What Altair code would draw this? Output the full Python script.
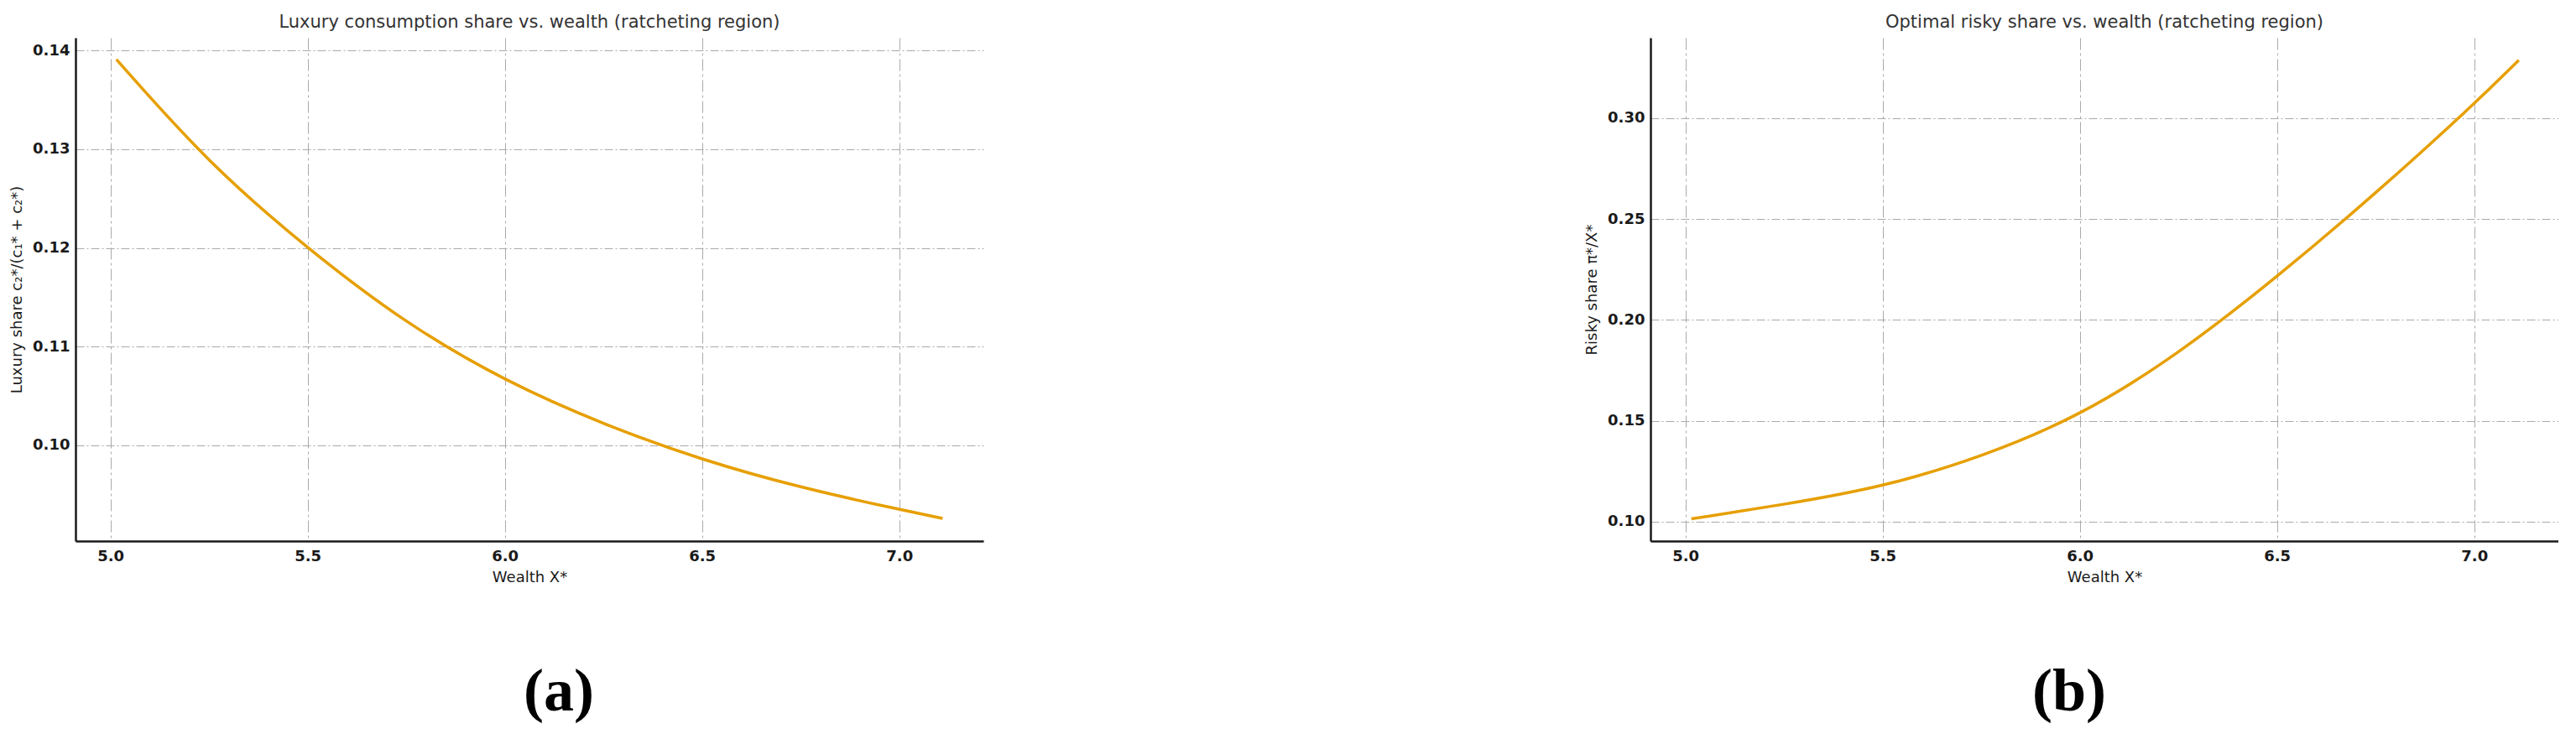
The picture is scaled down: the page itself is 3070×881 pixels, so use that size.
import altair as alt
import pandas as pd

# Data
wealth_a = [5.015, 5.25, 5.5, 5.75, 6.0, 6.25, 6.5, 6.75, 7.0, 7.11]
luxury_share = [0.1391, 0.1285, 0.1199, 0.1123, 0.1065, 0.1021, 0.0985, 0.0957, 0.0935, 0.0926]

wealth_b = [5.015, 5.25, 5.5, 5.75, 6.0, 6.25, 6.5, 6.75, 7.0, 7.113]
risky_share = [0.1014, 0.1085, 0.1171, 0.1320, 0.1522, 0.1830, 0.2212, 0.2626, 0.3070, 0.3288]

x_ticks = [5.0, 5.5, 6.0, 6.5, 7.0]
ya_ticks = [0.10, 0.11, 0.12, 0.13, 0.14]
yb_ticks = [0.10, 0.15, 0.20, 0.25, 0.30]

title_a = "Luxury consumption share vs. wealth (ratcheting region)"
title_b = "Optimal risky share vs. wealth (ratcheting region)"
ylabel_a = "Luxury share c₂*/(c₁* + c₂*)"
ylabel_b = "Risky share π*/X*"
xlabel = "Wealth X*"
captions = ["(a)", "(b)"]

W, H = 1082, 600
ORANGE = "#E69F00"

df_a = pd.DataFrame({"x": wealth_a, "y": luxury_share})
df_b = pd.DataFrame({"x": wealth_b, "y": risky_share})


def panel(df, title, ylabel, yticks, ydomain, caption, cap_x):
    xenc = alt.X(
        "x:Q",
        scale=alt.Scale(domain=[4.9113, 7.2134], nice=False, zero=False),
        axis=alt.Axis(values=x_ticks, format=".1f", title=xlabel,
                      gridDash=[14, 4, 3, 4], labelPadding=9, titlePadding=7),
    )
    yenc = alt.Y(
        "y:Q",
        scale=alt.Scale(domain=ydomain, nice=False, zero=False),
        axis=alt.Axis(values=yticks, format=".2f", title=ylabel,
                      gridDash=[10, 3, 2, 3], labelPadding=7, titlePadding=9),
    )
    line = alt.Chart(df).mark_line(
        color=ORANGE, strokeWidth=3.5, interpolate="basis"
    ).encode(x=xenc, y=yenc)
    cap = alt.Chart(pd.DataFrame({"t": [caption]})).mark_text(
        font="Liberation Serif", fontWeight="bold", fontSize=72,
        color="#000000", align="center", baseline="alphabetic", clip=False,
    ).encode(text="t:N", x=alt.value(cap_x), y=alt.value(802))
    return alt.layer(line, cap).properties(
        width=W, height=H,
        title=alt.TitleParams(title, fontSize=21, font="DejaVu Sans",
                              fontWeight="normal", color="#333333",
                              offset=8, anchor="middle"),
    )


left = panel(df_a, title_a, ylabel_a, ya_ticks, [0.0903, 0.1413], captions[0], 576)
right = panel(df_b, title_b, ylabel_b, yb_ticks, [0.0904, 0.3399], captions[1], 499)

chart = alt.hconcat(left, right, spacing=716).configure(
    padding={"left": 3, "top": 8, "right": 0, "bottom": 20},
).configure_view(stroke=None).configure_axis(
    domainColor="#1a1a1a", domainWidth=2.5, ticks=False,
    grid=True, gridColor="#aaaaaa", gridWidth=1,
    labelFont="DejaVu Sans", labelFontWeight="bold", labelFontSize=18,
    labelColor="#1a1a1a",
    titleFont="DejaVu Sans", titleFontWeight="normal", titleFontSize=18,
    titleColor="#1a1a1a",
)

chart.save("out.html", embed_options={"renderer": "svg", "actions": False})
